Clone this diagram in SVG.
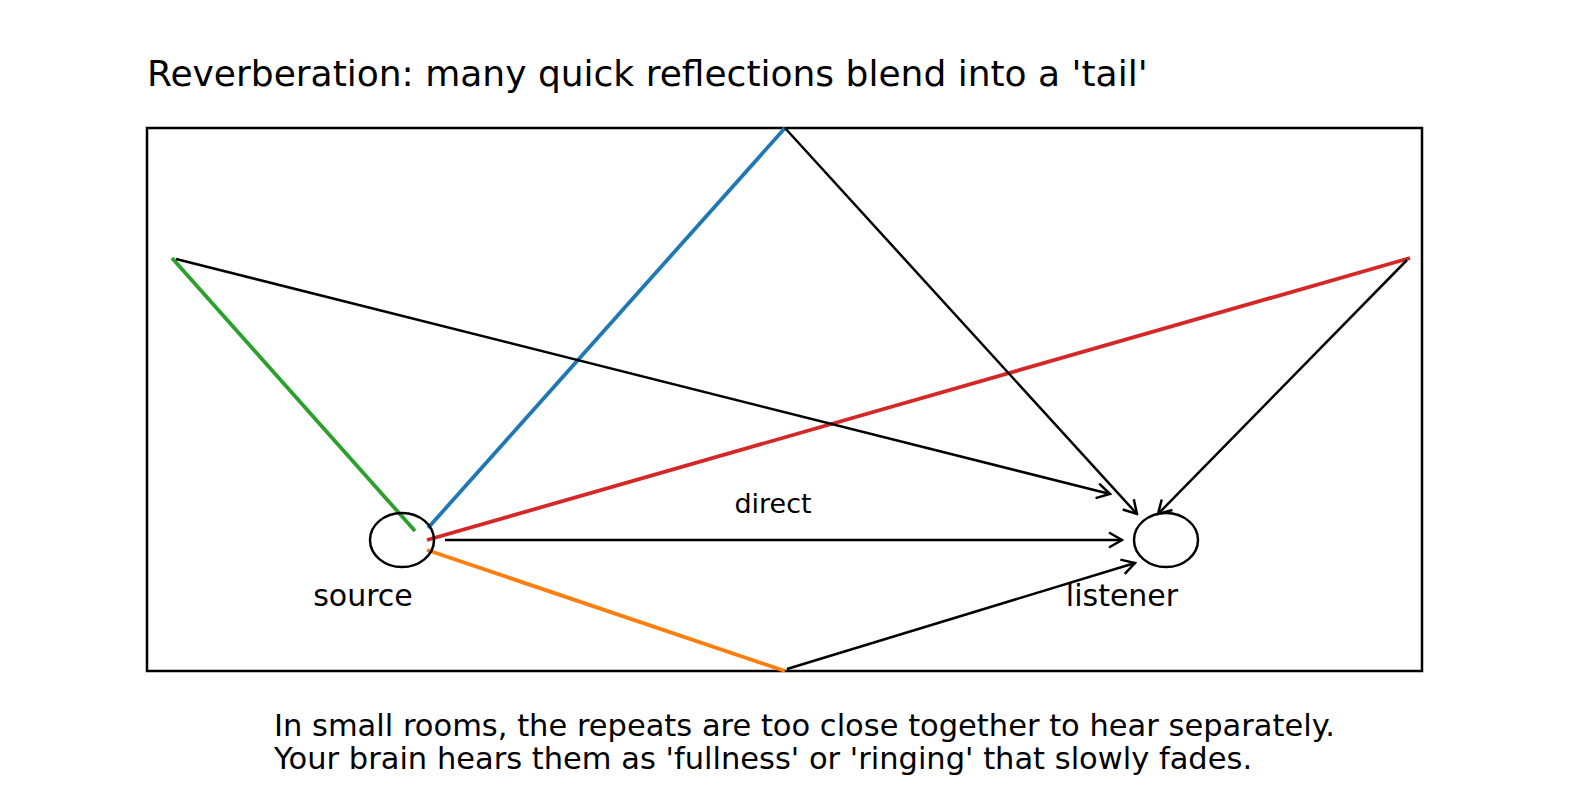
<svg xmlns="http://www.w3.org/2000/svg" width="1589" height="810" viewBox="0 0 1589 810">
<style>
text{font-family:"DejaVu Sans",sans-serif;fill:#000}
.k{stroke:#000;stroke-width:2.5;fill:none}
.c{stroke-width:3.8;fill:none}
</style>
<defs>
<marker id="a" viewBox="-14 -9 16 18" markerWidth="16" markerHeight="18" refX="0" refY="0" orient="auto" markerUnits="userSpaceOnUse">
<path d="M-13,-7.5 L0,0 L-13,7.5" fill="none" stroke="#000" stroke-width="2.5"/>
</marker>
</defs>
<rect width="1589" height="810" fill="#fff"/>
<text x="147" y="86" font-size="36">Reverberation: many quick reflections blend into a 'tail'</text>
<rect x="147" y="128" width="1275" height="543" fill="none" stroke="#000" stroke-width="2.5"/>
<g id="connectors">
<line class="c" stroke="#2ca02c" x1="172" y1="258" x2="415" y2="531"/>
<line class="c" stroke="#1f77b4" x1="428" y1="528" x2="785" y2="128"/>
<line class="c" stroke="#d62728" x1="427" y1="540" x2="1410" y2="258"/>
<line class="c" stroke="#ff7f0e" x1="427" y1="550" x2="785" y2="671"/>
<line class="k" x1="176" y1="259" x2="1110" y2="494" marker-end="url(#a)"/>
<line class="k" x1="785" y1="128" x2="1137" y2="514" marker-end="url(#a)"/>
<line class="k" x1="1407" y1="260" x2="1158" y2="514" marker-end="url(#a)"/>
<line class="k" x1="787" y1="669" x2="1135" y2="563" marker-end="url(#a)"/>
<line class="k" x1="445" y1="540" x2="1122" y2="540" marker-end="url(#a)"/>
<text x="773" y="513" font-size="27" text-anchor="middle">direct</text>
</g>
<g id="source">
<ellipse class="k" cx="402" cy="540" rx="32" ry="27"/>
<text x="363" y="606" font-size="30" text-anchor="middle">source</text>
</g>
<g id="listener">
<ellipse class="k" cx="1166" cy="540" rx="32" ry="27"/>
<text x="1122" y="606" font-size="30" text-anchor="middle">listener</text>
</g>
<text x="274" y="736" font-size="30.5">In small rooms, the repeats are too close together to hear separately.</text>
<text x="274" y="769" font-size="30.5">Your brain hears them as 'fullness' or 'ringing' that slowly fades.</text>
</svg>
